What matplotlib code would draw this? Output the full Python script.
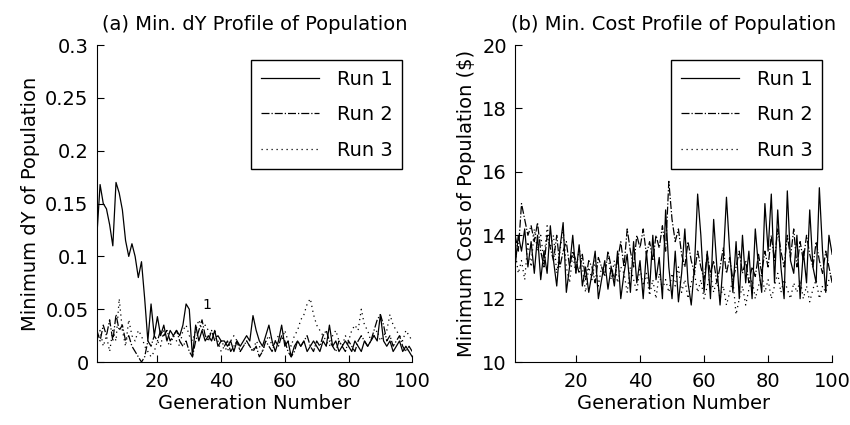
import numpy as np
import matplotlib
matplotlib.use("Agg")
import matplotlib.pyplot as plt

plt.rcParams['font.family'] = ['DejaVu Sans']

gen = np.arange(1, 101)

dy_run1 = [0.12, 0.168, 0.15, 0.145, 0.13, 0.11, 0.17, 0.16, 0.144, 0.115,
           0.10, 0.112, 0.10, 0.08, 0.095, 0.06, 0.02, 0.055, 0.025, 0.043,
           0.025, 0.035, 0.02, 0.03, 0.025, 0.03, 0.025, 0.035, 0.055, 0.05,
           0.005, 0.035, 0.02, 0.03, 0.02, 0.025, 0.02, 0.03, 0.015, 0.02,
           0.02, 0.015, 0.02, 0.01, 0.02, 0.015, 0.02, 0.025, 0.02, 0.044,
           0.03, 0.02, 0.015, 0.025, 0.035, 0.02, 0.01, 0.02, 0.035, 0.015,
           0.02, 0.005, 0.015, 0.02, 0.015, 0.02, 0.01, 0.015, 0.02, 0.015,
           0.01, 0.02, 0.015, 0.035, 0.015, 0.02, 0.01, 0.015, 0.02, 0.015,
           0.01, 0.02, 0.015, 0.01, 0.02, 0.015, 0.02, 0.025, 0.02, 0.045,
           0.02, 0.015, 0.02, 0.01, 0.015, 0.02, 0.01, 0.015, 0.01, 0.005]
dy_run2 = [0.03, 0.02, 0.035, 0.025, 0.04, 0.02, 0.045, 0.03, 0.035, 0.02,
           0.025, 0.015, 0.01, 0.005, 0.0, 0.005, 0.02, 0.015, 0.025, 0.02,
           0.03, 0.025, 0.03, 0.02, 0.025, 0.03, 0.02, 0.015, 0.02, 0.01,
           0.005, 0.02, 0.03, 0.04, 0.025, 0.02, 0.03, 0.02, 0.025, 0.02,
           0.015, 0.02, 0.01, 0.015, 0.02, 0.01, 0.015, 0.02, 0.015, 0.01,
           0.015, 0.005, 0.01, 0.02, 0.015, 0.01, 0.02, 0.015, 0.025, 0.02,
           0.01, 0.005, 0.01, 0.02, 0.015, 0.02, 0.025, 0.015, 0.01, 0.02,
           0.015, 0.025, 0.03, 0.02, 0.015, 0.01, 0.02, 0.015, 0.01, 0.02,
           0.015, 0.01, 0.02, 0.025, 0.02, 0.015, 0.02, 0.03, 0.04, 0.045,
           0.035, 0.02, 0.025, 0.015, 0.02, 0.025, 0.015, 0.01, 0.015, 0.01]
dy_run3 = [0.02, 0.03, 0.015, 0.025, 0.01, 0.03, 0.02, 0.06, 0.03, 0.015,
           0.04, 0.025, 0.02, 0.03, 0.025, 0.015, 0.01, 0.005, 0.01, 0.02,
           0.015, 0.03, 0.02, 0.015, 0.025, 0.02, 0.015, 0.03, 0.035, 0.025,
           0.02, 0.03, 0.04, 0.03, 0.035, 0.03, 0.025, 0.03, 0.02, 0.01,
           0.015, 0.01, 0.02, 0.025, 0.02, 0.01, 0.015, 0.02, 0.015, 0.01,
           0.02, 0.015, 0.01, 0.02, 0.025, 0.015, 0.02, 0.025, 0.02, 0.03,
           0.02, 0.015, 0.025, 0.03, 0.04, 0.045, 0.055, 0.06, 0.045, 0.035,
           0.03, 0.025, 0.02, 0.015, 0.025, 0.03, 0.02, 0.015, 0.025, 0.02,
           0.03, 0.035, 0.03, 0.05, 0.035, 0.03, 0.02, 0.025, 0.03, 0.02,
           0.025, 0.03, 0.045, 0.035, 0.03, 0.025, 0.02, 0.03, 0.025, 0.02]

cost_run1 = [13.0, 14.0, 13.5, 14.2, 13.0, 13.8, 12.8, 14.0, 12.6, 13.5,
             12.8, 14.3, 13.2, 12.4, 13.6, 14.4, 12.2, 13.0, 14.0, 12.8,
             13.7, 12.4, 13.0, 12.2, 12.8, 13.5, 12.0, 12.6, 13.2, 12.3,
             13.0, 12.4, 13.5, 12.0, 12.8, 13.4, 12.2, 13.8, 12.5, 13.2,
             12.0, 13.5, 12.3, 14.0, 12.6, 13.3, 12.0, 14.8, 13.0, 12.0,
             13.5, 11.9, 12.8, 14.2, 12.5, 11.8, 13.0, 15.3, 14.0, 12.2,
             13.5, 12.0, 14.5, 13.0, 11.8, 13.2, 15.2, 13.5, 12.2, 13.8,
             12.0, 14.0, 12.5, 13.5, 12.0, 14.2, 13.0, 12.2, 15.0, 13.5,
             15.3, 12.5, 14.8, 13.0, 12.0, 15.4, 13.2, 12.8, 14.0, 12.0,
             13.5, 12.5, 14.8, 13.0, 12.5, 15.5, 13.5, 12.2, 14.0, 13.4]
cost_run2 = [14.0, 13.5, 15.0, 14.5, 14.0, 14.3, 13.8, 14.4, 13.5, 13.0,
             14.0, 13.6, 13.2, 14.0, 13.0, 13.5, 13.8, 13.0, 13.5, 13.2,
             12.8, 13.4, 12.6, 13.2, 13.0, 12.5, 13.3, 13.0, 12.7, 13.5,
             13.0, 12.6, 13.2, 13.8, 13.0, 14.2, 13.5, 13.0, 14.0, 13.6,
             14.2, 13.4, 13.8, 13.2, 14.0, 13.6, 14.3, 13.5, 15.7, 14.5,
             13.8, 14.2, 13.4, 13.0, 13.8, 13.2, 12.8, 13.5, 13.0, 12.6,
             13.4, 12.8, 13.2, 12.5, 13.0, 13.6, 12.8, 13.3, 12.6, 13.0,
             13.5, 12.8, 13.2, 12.5, 13.0, 12.7, 13.4, 12.8, 13.5, 13.0,
             14.0, 13.2, 14.2, 13.5, 13.0, 14.0, 13.3, 14.2, 13.0, 13.8,
             13.2, 14.0, 13.4, 13.0, 13.8, 13.2, 12.8, 13.5, 13.0, 12.5]
cost_run3 = [13.5, 12.8, 13.2, 12.6, 13.8, 13.0, 14.2, 13.5, 14.0, 13.2,
             14.3, 13.6, 14.0, 12.8, 13.5, 14.2, 13.0, 12.5, 13.4, 12.8,
             13.6, 13.0, 12.2, 13.0, 12.6, 13.2, 12.4, 13.0, 12.8, 13.4,
             12.6, 13.2, 12.5, 13.0, 12.8, 12.2, 13.0, 12.6, 12.2, 13.0,
             12.4, 12.8, 12.1, 12.6, 12.0, 12.8, 12.3, 12.6, 12.2, 12.8,
             12.4, 13.0, 12.2, 12.6, 12.0, 12.5, 12.8, 12.2, 12.6, 12.0,
             12.4, 12.8, 12.2, 12.6, 12.0, 12.4, 11.8, 12.2, 12.6, 11.5,
             12.0, 12.4, 11.8, 12.3, 12.6, 12.0, 12.4, 12.8, 12.2, 12.6,
             12.0, 12.4, 12.8, 12.2, 12.6, 12.3, 12.0, 12.5, 12.2, 12.6,
             12.0, 12.4, 11.9, 12.3, 12.6, 12.0, 12.4, 12.2, 12.6, 12.8]

run_labels = ["Run 1", "Run 2", "Run 3"]
styles = ["-", "-.", (0, (1, 3))]

fs = 14

fig = plt.figure(figsize=(8.5, 4.25), dpi=100)
ax1 = fig.add_axes([0.114, 0.148, 0.371, 0.746])
ax2 = fig.add_axes([0.606, 0.148, 0.373, 0.746])

for ax, series in [(ax1, [dy_run1, dy_run2, dy_run3]),
                   (ax2, [cost_run1, cost_run2, cost_run3])]:
    for y, ls, lab in zip(series, styles, run_labels):
        ax.plot(gen, y, color="black", linestyle=ls, linewidth=0.9, label=lab)
    ax.set_xlim(1, 100)
    ax.set_xticks([20, 40, 60, 80, 100])
    ax.spines["top"].set_visible(False)
    ax.spines["right"].set_visible(False)
    ax.tick_params(direction="in", length=5, labelsize=fs)
    ax.tick_params(axis="x", pad=7)
    ax.tick_params(axis="y", pad=6)
    ax.set_xlabel("Generation Number", fontsize=fs, labelpad=2)
    leg = ax.legend(loc="upper right", bbox_to_anchor=(0.968, 0.953),
                    borderaxespad=0, fontsize=fs, handlelength=3.0,
                    handletextpad=0.9, labelspacing=0.85, borderpad=0.5,
                    fancybox=False, edgecolor="black", framealpha=1)
    leg.get_frame().set_linewidth(1.0)

ax1.set_ylim(0, 0.3)
ax1.set_yticks([0, 0.05, 0.1, 0.15, 0.2, 0.25, 0.3])
ax1.set_yticklabels(["0", "0.05", "0.1", "0.15", "0.2", "0.25", "0.3"])
ax1.set_ylabel("Minimum dY of Population", fontsize=fs)
ax1.set_title("(a) Min. dY Profile of Population", fontsize=fs, pad=11)
ax1.text(34, 0.05, "1", fontsize=10)

ax2.set_ylim(10, 20)
ax2.set_yticks([10, 12, 14, 16, 18, 20])
ax2.set_ylabel("Minimum Cost of Population ($)", fontsize=fs)
ax2.set_title("(b) Min. Cost Profile of Population", fontsize=fs, pad=11)

fig.savefig("out.png", dpi=100)
